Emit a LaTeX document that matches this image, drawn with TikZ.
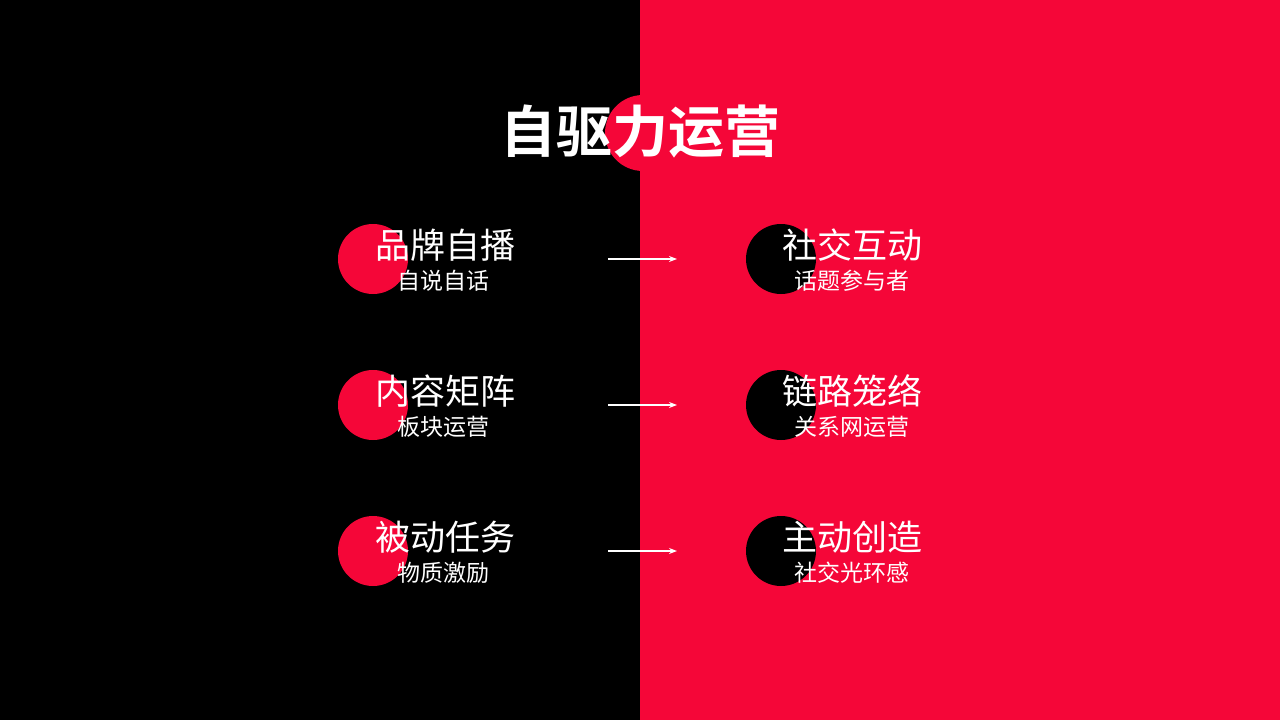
\documentclass[tikz,border=0pt]{standalone}
\usepackage{fontspec}
\setmainfont{Noto Sans CJK SC}
\newfontfamily\cjkbold{Noto Sans CJK SC Bold}
\definecolor{myred}{RGB}{245,6,56}
\usetikzlibrary{arrows.meta}
\begin{document}
\begin{tikzpicture}[x=1pt,y=-1pt,
  mainlbl/.style={text=white,font=\fontsize{35}{38}\selectfont,inner sep=0pt},
  sublbl/.style={text=white,font=\fontsize{23}{25}\selectfont,inner sep=0pt},
  arr/.style={white,line width=1.5pt,-{Stealth[length=8pt,width=6pt]}}]
\useasboundingbox (0,0) rectangle (1280,720);
\fill[black] (0,0) rectangle (640,720);
\fill[myred] (640,0) rectangle (1280,720);
\fill[myred] (643,133) circle (38);
\node[text=white,font=\cjkbold\fontsize{56}{60}\selectfont,inner sep=0pt] (title) at (640,131) {自驱力运营};
\foreach \y/\a/\b/\c/\d [count=\i] in {259/品牌自播/自说自话/社交互动/话题参与者,405/内容矩阵/板块运营/链路笼络/关系网运营,551/被动任务/物质激励/主动创造/社交光环感}{
  \fill[myred] (373,\y) circle (35);
  \fill[black] (781,\y) circle (35);
  \node[mainlbl] (L\i) at (445,\y-14) {\a};
  \node[sublbl] (l\i) at (443,\y+22) {\b};
  \node[mainlbl] (R\i) at (852,\y-14) {\c};
  \node[sublbl] (r\i) at (852,\y+22) {\d};
  \coordinate (s\i) at (608,\y);
  \coordinate (e\i) at (677,\y);
  \draw[arr] (s\i) -- (e\i);
}
\end{tikzpicture}
\end{document}
